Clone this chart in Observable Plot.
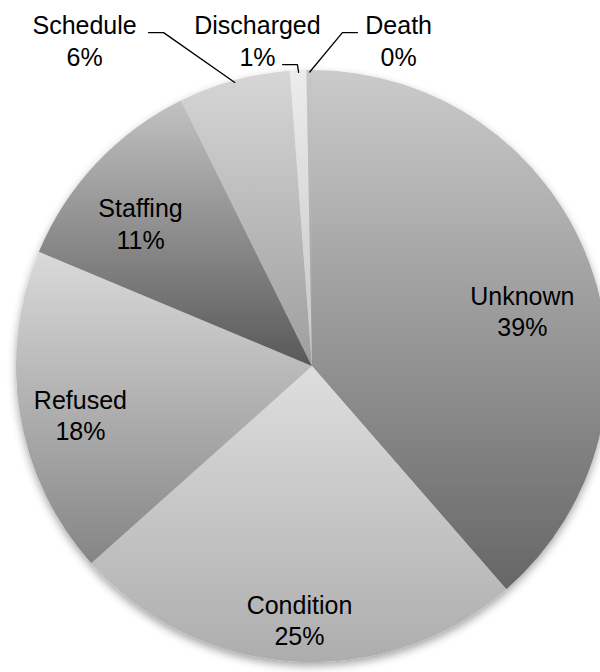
<!DOCTYPE html>
<html>
<head>
<meta charset="utf-8">
<script src="https://cdn.jsdelivr.net/npm/d3@7"></script>
<script src="https://cdn.jsdelivr.net/npm/@observablehq/plot@0.6"></script>
<style>
  body { margin: 0; background: #fff; }
  #chart svg { display: block; }
</style>
</head>
<body>
<div id="chart"></div>
<script>
// ---- data ----
const categories = ["Unknown", "Condition", "Refused", "Staffing", "Schedule", "Discharged", "Death"];
const values = [38.6, 24.8, 17.9, 11.4, 6.1, 0.9, 0.3];
const percentLabels = ["39%", "25%", "18%", "11%", "6%", "1%", "0%"];

// ---- styles (grey gradients, top -> bottom) ----
const gradTop =    ["#cbcbcb", "#dedede", "#dadada", "#c2c2c2", "#d6d6d6", "#ececec", "#c8c8c8"];
const gradBottom = ["#666666", "#adadad", "#858585", "#585858", "#9e9e9e", "#c6c6c6", "#9a9a9a"];

// ---- label layout (data units, pie radius = 1) ----
const labelX = [0.709, -0.044, -0.784, -0.581, -0.770, -0.186, 0.291];
const labelY = [0.188, -0.855, -0.162, 0.485, 1.103, 1.103, 1.103];
const outside = [false, false, false, false, true, true, true];
// leader elbows for outside labels: [endX, elbowX, y]
const leaderEnd =   [null, null, null, null, -0.554, -0.101, 0.152];
const leaderElbow = [null, null, null, null, -0.503, -0.051, 0.101];
const leaderY =     [null, null, null, null, 1.128, 1.020, 1.128];

const arcs = d3.pie().sort(null).value(d => d)(values);

const labels = categories.map((c, i) => ({
  text: c + "\n" + percentLabels[i],
  x: labelX[i],
  y: labelY[i]
}));

const leaders = [];
categories.forEach((c, i) => {
  if (!outside[i]) return;
  const a = (arcs[i].startAngle + arcs[i].endAngle) / 2;
  leaders.push({k: c, x: leaderEnd[i], y: leaderY[i]});
  leaders.push({k: c, x: leaderElbow[i], y: leaderY[i]});
  leaders.push({k: c, x: Math.sin(a) * 0.995, y: Math.cos(a) * 0.995});
});

function pieMark(index, scales) {
  const cx = scales.x(0), cy = scales.y(0);
  const r = scales.x(1) - scales.x(0);
  const g = d3.create("svg:g");
  const defs = g.append("defs");
  const f = defs.append("filter").attr("id", "pieShadow")
    .attr("x", "-10%").attr("y", "-10%").attr("width", "120%").attr("height", "125%");
  f.append("feDropShadow").attr("dx", 0).attr("dy", 4).attr("stdDeviation", 4)
    .attr("flood-color", "#000").attr("flood-opacity", 0.35);
  arcs.forEach((a, i) => {
    const lg = defs.append("linearGradient").attr("id", "grad" + i)
      .attr("x1", 0).attr("y1", 0).attr("x2", 0).attr("y2", 1);
    lg.append("stop").attr("offset", "0%").attr("stop-color", gradTop[i]);
    lg.append("stop").attr("offset", "100%").attr("stop-color", gradBottom[i]);
  });
  const arcGen = d3.arc().innerRadius(0).outerRadius(r);
  const pg = g.append("g").attr("transform", `translate(${cx},${cy})`).attr("filter", "url(#pieShadow)");
  arcs.forEach((a, i) => {
    pg.append("path").attr("d", arcGen(a)).attr("fill", `url(#grad${i})`);
  });
  return g.node();
}

const chart = Plot.plot({
  width: 600,
  height: 672,
  margin: 0,
  x: {domain: [-1, 1], range: [16, 608], axis: null},
  y: {domain: [-1, 1], range: [662, 70], axis: null},
  style: {fontFamily: "'Liberation Sans', Arial, Helvetica, sans-serif", background: "#fff"},
  marks: [
    pieMark,
    Plot.line(leaders, {x: "x", y: "y", z: "k", stroke: "#000", strokeWidth: 1.3}),
    Plot.text(labels, {x: "x", y: "y", text: "text", fontSize: 25, lineHeight: 1.25, fill: "#000", textAnchor: "middle"})
  ]
});

document.getElementById("chart").appendChild(chart);
</script>
</body>
</html>
